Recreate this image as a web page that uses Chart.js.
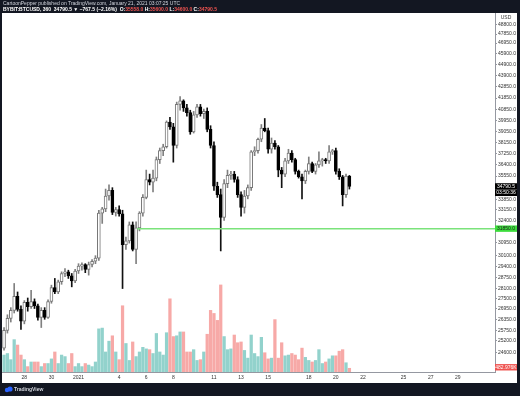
<!DOCTYPE html>
<html>
<head>
<meta charset="utf-8">
<script src="https://cdn.jsdelivr.net/npm/chart.js@4.4.1/dist/chart.umd.min.js"></script>
<style>
  html, body { margin: 0; padding: 0; background: #131722; }
  canvas { display: block; }
</style>
</head>
<body>
<canvas id="chart" width="520" height="396"></canvas>
<script>
  // BYBIT:BTCUSD 6h candles, first candle Dec 26 2020 12:00 UTC
  const opens = [24800,25750,26400,26850,27650,26900,26250,27300,27050,27350, 27100,26450,26850,26450,27350,28150,27900,28500,29000,29100,
    28850,28550,29150,29450,29550,29250,29550,29750,29950,32900, 33200,34100,34500,32950,33150,32850,30800,31050,32100,30500,
    31900,32900,34000,35300,35100,35400,36800,37500,37800,39800, 39400,37900,41300,41600,41000,40600,39000,40400,41100,40500,
    40700,39200,37900,34800,34200,32600,35000,35600,35700,35300, 34200,33300,34100,34700,37400,37500,38400,39300,39100,37600,
    38100,37800,36000,35700,36700,37300,36800,35900,35500,35200, 35900,36500,35900,36400,36700,36800,36700,37400,37500,35900,
    35500,34200,35558];
  const highs = [25900,26600,27000,28400,27900,27100,27400,27550,28000,27500, 27200,27000,27000,27450,28300,28700,28600,29100,29300,29200,
    29000,29250,29600,29650,29600,29700,29850,30100,33100,33300, 34600,34900,34700,33300,33400,33100,31300,32300,32300,32300,
    33000,34200,36000,35700,36000,37000,37700,38000,39900,40200, 39700,41500,41980,41700,41300,40800,40700,41300,41300,40900,
    41000,39500,38200,35100,34600,35300,36000,35900,35900,35500, 34400,34500,34900,37500,37800,38500,39600,40100,39300,38500,
    38300,37900,36200,36900,37600,37500,36900,36000,35700,36000, 37000,36600,36500,37400,36900,36900,37900,37600,37700,36100,
    35600,35700,35600];
  const lows = [24700,25600,26200,26700,26800,25800,26100,26800,26950,26950, 26300,25900,26350,26400,27250,27800,27800,28350,28800,28700,
    28200,28450,29000,29200,29050,28900,29400,29600,29800,32200, 33000,33800,32800,32700,32700,28100,30500,30900,30400,29600,
    31700,32700,33900,34900,34400,35200,36500,37100,37700,39200, 36600,37700,40800,40700,40300,38800,38900,40200,40300,40100,
    39000,37700,34500,34000,30400,32400,34700,35300,35100,34000, 32700,32900,33900,34500,37100,37300,38200,39000,37300,37300,
    37600,35500,34700,35500,36500,36600,35700,35400,33900,35000, 35700,35800,35700,36200,36300,36500,36500,37200,35700,35300,
    33400,34000,34600];
  const closes = [25750,26400,26850,27650,26900,26250,27300,27050,27350,27100, 26450,26850,26450,27350,28150,27900,28500,29000,29100,28850,
    28550,29150,29450,29550,29250,29550,29750,29950,32900,33200, 34100,34500,32950,33150,32850,30800,31050,32100,30500,31900,
    32900,34000,35300,35100,35400,36800,37500,37800,39800,39400, 37900,41300,41600,41000,40600,39000,40400,41100,40500,40700,
    39200,37900,34800,34200,32600,35000,35600,35700,35300,34200, 33300,34100,34700,37400,37500,38400,39300,39100,37600,38100,
    37800,36000,35700,36700,37300,36800,35900,35500,35200,35900, 36500,35900,36400,36700,36800,36700,37400,37500,35900,35500,
    34200,35558,34790.5];
  // volume, millions
  const volumes = [2.2,2.4,1.6,4.2,3.5,2.2,1.6,0.7,1.3,1.3, 1.3,0.7,1.1,1.1,1.7,2.6,1.1,2.2,2.0,1.1,
    2.4,0.7,1.1,0.7,1.1,0.9,0.7,1.3,5.6,5.7, 2.6,4.0,4.7,2.6,1.6,8.6,3.7,1.5,3.9,2.0,
    2.6,3.2,3.0,2.9,2.4,5.0,2.6,2.2,5.1,9.5, 4.6,4.7,5.2,5.2,2.6,2.6,2.9,1.5,1.6,2.6,
    4.9,8.0,7.6,6.7,11.3,4.6,2.9,3.0,4.8,3.8, 3.9,2.8,1.8,4.8,2.4,2.0,4.5,2.5,1.7,1.8,
    6.8,1.8,3.8,2.1,2.2,2.4,2.2,1.6,3.1,1.9, 1.5,1.3,1.5,2.9,1.1,1.3,1.7,2.1,2.1,2.7,
    2.9,1.2,0.482976];

  const xTickPos = [6, 14, 22, 34, 42, 50, 62, 70, 78, 90, 98, 106, 118, 126, 134];
  const xTickLabels = ['28', '30', '2021', '4', '6', '8', '11', '13', '15', '18', '20', '22', '25', '27', '29'];
  const priceTicks = [48800, 47850, 46950, 45900, 44900, 43900, 42850, 41850, 40850, 39950, 39050, 38150, 37250,
    36400, 35550, 33850, 33150, 32400, 30950, 30100, 29400, 28750, 28100, 27500, 26950, 26350, 25750, 25200, 24600];

  const levelPrice = 31850;
  const levelStart = 39.3;
  const lastPrice = 34790.5;
  const font = "'Liberation Sans', Arial, sans-serif";

  const isUp = opens.map((o, i) => closes[i] >= o);

  const wickData = highs.map((h, i) => ({ x: i, y: [lows[i], h] }));
  const bodyData = opens.map((o, i) => ({ x: i, y: [o, closes[i]] }));
  const volData = volumes.map((v, i) => ({ x: i, y: v }));

  // Frame, header, footer and price tags
  const frame = {
    id: 'frame',
    beforeDraw(chart) {
      const ctx = chart.ctx;
      ctx.save();
      ctx.fillStyle = '#131722';
      ctx.fillRect(0, 0, 520, 396);
      ctx.fillStyle = '#ffffff';
      ctx.fillRect(2, 13, 515, 370);
      ctx.restore();
    },
    afterDraw(chart) {
      const ctx = chart.ctx;
      const y = chart.scales.y;
      const yVol = chart.scales.yVol;
      ctx.save();

      // header
      ctx.textBaseline = 'middle';
      ctx.textAlign = 'left';
      ctx.font = '5px ' + font;
      ctx.fillStyle = '#d1d4dc';
      ctx.fillText('CartoonPepper published on TradingView.com, January 21, 2021 03:07:25 UTC', 3, 4);
      ctx.font = 'bold 5px ' + font;
      let x = 3;
      const parts = [
        ['BYBIT:BTCUSD, 360  34790.5 \u25BC \u2212767.5 (\u22122.16%)  O:', '#ffffff'],
        ['35558.0', '#ef5350'], [' H:', '#ffffff'], ['35600.0', '#ef5350'],
        [' L:', '#ffffff'], ['34600.0', '#ef5350'], [' C:', '#ffffff'], ['34790.5', '#ef5350']
      ];
      parts.forEach(p => {
        ctx.fillStyle = p[1];
        ctx.fillText(p[0], x, 10);
        x += ctx.measureText(p[0]).width;
      });

      // footer logo
      ctx.fillStyle = '#2962ff';
      ctx.beginPath();
      ctx.arc(7, 390, 2.2, 0, Math.PI * 2);
      ctx.arc(10, 389, 2.6, 0, Math.PI * 2);
      ctx.fill();
      ctx.font = 'bold 5px ' + font;
      ctx.fillStyle = '#d1d4dc';
      ctx.fillText('TradingView', 14, 390);

      // axis tags
      ctx.font = '5px ' + font;
      ctx.textAlign = 'center';
      function tag(cy, bg, fg, text) {
        ctx.fillStyle = bg;
        ctx.fillRect(495, cy - 3.2, 22, 6.4);
        ctx.fillStyle = fg;
        ctx.fillText(text, 506, cy + 0.3);
      }
      ctx.fillStyle = '#ffffff';
      ctx.fillRect(496, 13, 21, 8);
      ctx.fillStyle = '#333';
      ctx.fillText('USD', 506, 18);
      const yc = y.getPixelForValue(lastPrice);
      tag(yc, '#000000', '#ffffff', '34790.5');
      tag(yc + 6.4, '#000000', '#ffffff', '03:50:36');
      tag(y.getPixelForValue(levelPrice), '#3cdc3c', '#1b1b1b', '31850.0');
      tag(yVol.getPixelForValue(volumes[volumes.length - 1]) - 1, '#ef5350', '#ffffff', '482.976K');

      ctx.restore();
    }
  };

  new Chart(document.getElementById('chart'), {
    type: 'bar',
    data: {
      datasets: [
        {
          type: 'line',
          data: [{ x: levelStart, y: levelPrice }, { x: 145, y: levelPrice }],
          borderColor: '#7be37b',
          borderWidth: 1.5,
          pointRadius: 0,
          yAxisID: 'y',
          order: 0
        },
        {
          data: bodyData,
          backgroundColor: isUp.map(u => u ? '#ffffff' : '#000000'),
          borderColor: isUp.map(u => u ? '#777777' : '#000000'),
          borderWidth: 1,
          borderSkipped: false,
          barThickness: 3,
          grouped: false,
          yAxisID: 'y',
          order: 1
        },
        {
          data: wickData,
          backgroundColor: isUp.map(u => u ? '#808080' : '#111111'),
          barThickness: 1,
          grouped: false,
          yAxisID: 'y',
          order: 2
        },
        {
          data: volData,
          backgroundColor: isUp.map(u => u ? '#92d2cc' : '#f7a9a7'),
          barThickness: 2.6,
          grouped: false,
          yAxisID: 'yVol',
          order: 3
        }
      ]
    },
    options: {
      responsive: false,
      animation: false,
      devicePixelRatio: 1,
      layout: { padding: { left: 2, right: 3, top: 13, bottom: 13 } },
      plugins: { legend: { display: false }, tooltip: { enabled: false } },
      scales: {
        x: {
          type: 'linear',
          min: -0.6,
          max: 145,
          offset: false,
          afterBuildTicks: s => { s.ticks = xTickPos.map(v => ({ value: v })); },
          afterFit: s => { s.height = 11; s.paddingLeft = 0; s.paddingRight = 0; },
          grid: { display: false, drawTicks: false },
          border: { color: '#9598a1' },
          ticks: {
            autoSkip: false, maxRotation: 0, padding: 3,
            font: { size: 5, family: font }, color: '#333',
            callback: v => xTickLabels[xTickPos.indexOf(v)]
          }
        },
        y: {
          type: 'logarithmic',
          position: 'right',
          min: 23600,
          max: 50000,
          afterBuildTicks: s => { s.ticks = priceTicks.map(v => ({ value: v })); },
          afterFit: s => { s.width = 22; s.paddingTop = 0; s.paddingBottom = 0; },
          grid: { drawOnChartArea: false, tickLength: 2, color: '#9598a1' },
          border: { color: '#9598a1' },
          ticks: {
            autoSkip: false, padding: 1,
            font: { size: 5, family: font }, color: '#333',
            callback: v => Number(v).toFixed(1)
          }
        },
        yVol: {
          type: 'linear',
          display: false,
          min: 0,
          max: 46.6
        }
      }
    },
    plugins: [frame]
  });
</script>
</body>
</html>
